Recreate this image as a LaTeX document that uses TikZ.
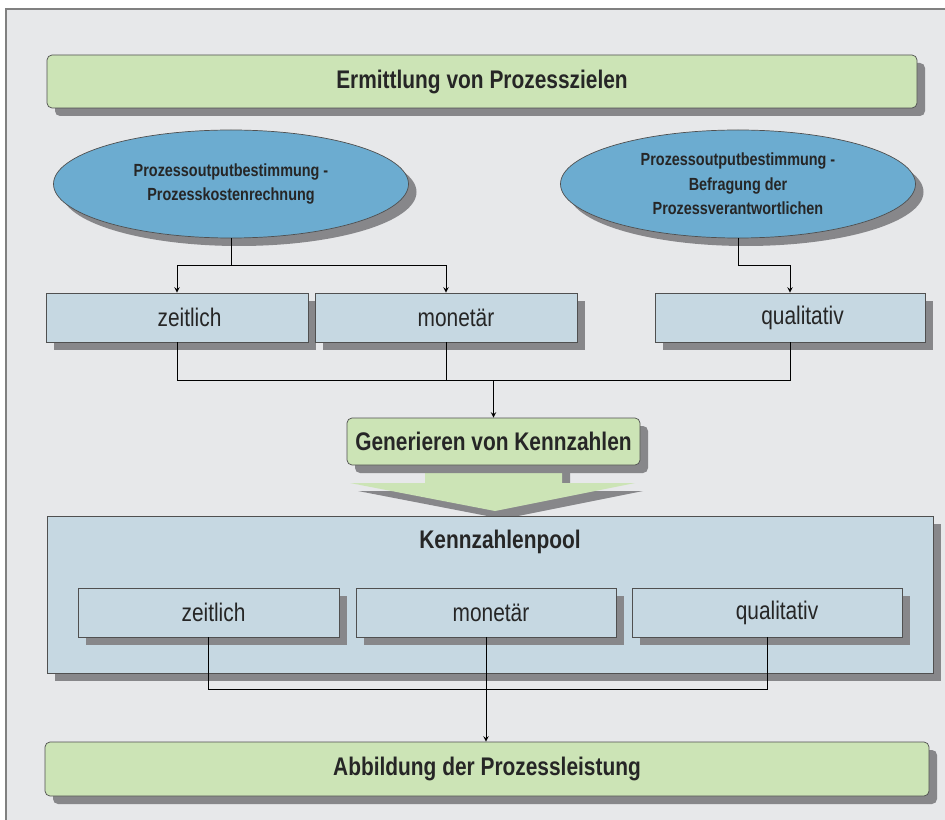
\documentclass[tikz,border=0pt]{standalone}
\usepackage{fontspec}
\setmainfont{Liberation Sans}[FakeStretch=0.82]
\usetikzlibrary{positioning}
\usetikzlibrary{arrows,shapes.geometric,shadows}
\definecolor{panelgray}{RGB}{231,232,234}
\definecolor{zielgreen}{RGB}{204,228,182}
\definecolor{ovalblue}{RGB}{108,172,208}
\definecolor{boxblue}{RGB}{198,216,226}
\definecolor{shadowgray}{RGB}{135,135,138}
\definecolor{linegray}{RGB}{80,80,80}

\begin{document}
\begin{tikzpicture}[
shade/.style ={drop shadow={shadow xshift=0.16cm, shadow yshift=-0.16cm, fill=shadowgray, opacity=1}},
greenbox/.style ={rectangle, draw=linegray, fill=zielgreen, rounded corners=0.1cm, minimum height=1.06cm, text=black!85, font=\fontsize{14.5}{17}\selectfont\bfseries, shade},
oval/.style ={ellipse, draw=linegray, fill=ovalblue, minimum width=7.1cm, minimum height=2.16cm, inner sep=0pt, align=center, text=black!85, font=\fontsize{10}{14}\selectfont\bfseries, shade},
bluebox/.style ={rectangle, draw=linegray, fill=boxblue, minimum height=0.98cm, text=black!85, font=\fontsize{14.5}{17}\selectfont, shade}
]
\useasboundingbox (0,0) rectangle (18.9,-16.4);
%panel
\fill[white] (0,0) rectangle (18.9,-16.4);
\fill[panelgray] (0.12,-0.18) rectangle (18.9,-16.4);
\draw[gray, thick] (0.12,-16.4) |- (18.9,-0.18);
%top box
\path (9.64,-1.63) node[greenbox, minimum width=17.4cm] (ziele) {Ermittlung von Prozesszielen};
%ellipses
\path (4.62,-3.68) node[oval] (lov) {Prozessoutputbestimmung -\\Prozesskostenrechnung}
(14.76,-3.68) node[oval] (rov) {Prozessoutputbestimmung -\\Befragung der\\Prozessverantwortlichen};
%first row
\path (3.54,-6.35) node[bluebox, minimum width=5.24cm] (zeit) {\hspace{0.5cm}zeitlich}
(8.92,-6.35) node[bluebox, minimum width=5.24cm] (mon) {\hspace{0.4cm}monetär}
(15.8,-6.35) node[bluebox, minimum width=5.4cm] (qual) {\hspace{0.5cm}qualitativ};
%ellipses to first row
\draw (lov.south) -- ++(0,-0.54) coordinate (j1);
\draw[->,>=stealth] (j1) -| (zeit.north);
\draw[->,>=stealth] (j1) -| (mon.north);
\draw (rov.south) -- ++(0,-0.54) coordinate (j2);
\draw[->,>=stealth] (j2) -| (qual.north);
%big arrow under generieren
\fill[zielgreen, shade] (8.5,-9.2) -- (8.5,-9.66) -- (7.0,-9.66) -- (9.9,-10.22) -- (12.7,-9.66) -- (11.24,-9.66) -- (11.24,-9.2) -- cycle;
%generieren
\path (9.87,-8.83) node[greenbox, minimum width=5.86cm, minimum height=0.94cm, inner sep=1pt] (gen) {Generieren von Kennzahlen};
%first row to generieren
\draw (gen.north |- 0,-7.6) coordinate (j3);
\draw (zeit.south) |- (j3);
\draw (qual.south) |- (j3);
\draw (mon.south) -- (mon.south |- j3);
\draw[->,>=stealth] (j3) -- (gen.north);
%pool
\path (9.8,-11.89) node[bluebox, minimum width=17.72cm, minimum height=3.14cm] (pool) {};
\path (10.0,-10.84) node[text=black!85, font=\fontsize{14.5}{17}\selectfont\bfseries] (pooltxt) {Kennzahlenpool};
\path (4.17,-12.25) node[bluebox, minimum width=5.22cm] (zeitk) {\hspace{0.2cm}zeitlich}
(9.72,-12.25) node[bluebox, minimum width=5.2cm] (monk) {\hspace{0.2cm}monetär}
(15.34,-12.25) node[bluebox, minimum width=5.4cm] (qualk) {\hspace{0.4cm}qualitativ};
%bottom box
\path (9.74,-15.38) node[greenbox, minimum width=17.68cm, minimum height=1.08cm] (abb) {Abbildung der Prozessleistung};
%pool to bottom box
\draw (monk.south |- 0,-13.78) coordinate (j4);
\draw (zeitk.south) |- (j4);
\draw (qualk.south) |- (j4);
\draw (monk.south) -- (j4);
\draw[->,>=stealth] (j4) -- (j4 |- abb.north);
\end{tikzpicture}
\end{document}
